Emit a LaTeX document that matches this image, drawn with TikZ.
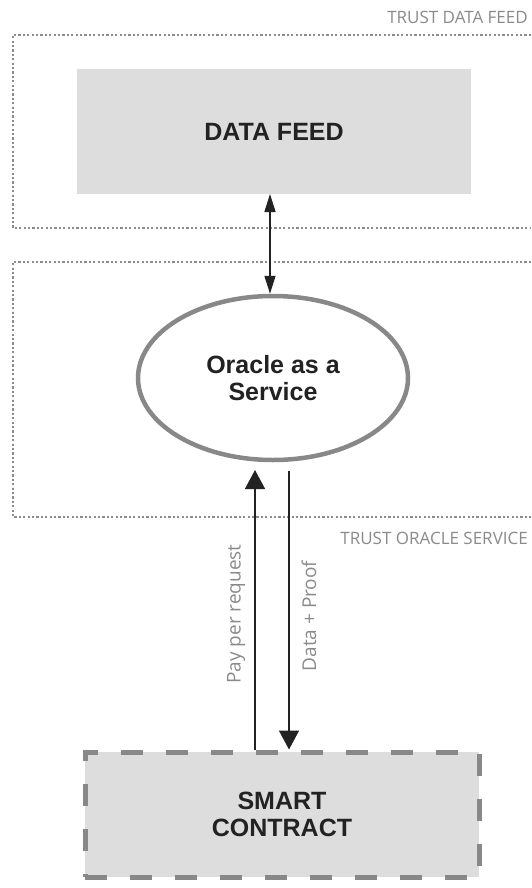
\documentclass[tikz,border=0pt]{standalone}
\usepackage{fontspec}
\setmainfont{Liberation Sans}
\newfontfamily\labelfont{Open Sans}
\usetikzlibrary{arrows.meta,shapes.geometric}
\definecolor{boxgray}{HTML}{DDDDDD}
\definecolor{edgegray}{HTML}{888888}
\definecolor{dotgray}{HTML}{8C8C8C}
\definecolor{txtgray}{HTML}{8A8A8A}
\definecolor{ink}{HTML}{222222}
\tikzset{
  trustzone/.style={draw=dotgray, line width=2.4pt, dash pattern=on 2.2pt off 2.2pt},
  zonelabel/.style={font=\labelfont\fontsize{17}{20}\selectfont, text=txtgray, inner sep=0pt, anchor=east},
  flowlabel/.style={font=\labelfont\fontsize{19}{22}\selectfont, text=txtgray, inner sep=0pt, rotate=90},
  titletext/.style={font=\bfseries\fontsize{25}{27}\selectfont, text=ink, align=center},
  feedbox/.style={fill=boxgray, draw=none, minimum width=394pt, minimum height=125pt, inner sep=0pt},
  contractbox/.style={fill=boxgray, draw=edgegray, line width=5pt, dash pattern=on 22pt off 23pt, minimum width=394pt, minimum height=125pt, inner sep=0pt},
  oraclenode/.style={ellipse, draw=edgegray, fill=white, line width=4.5pt, minimum width=270pt, minimum height=164pt, inner sep=0pt},
  flow/.style={draw=ink, line width=1.5pt},
  bigtip/.style={-{Triangle[length=19pt,width=20pt]}},
  duotip/.style={{Triangle[length=18pt,width=11pt]}-{Triangle[length=18pt,width=11pt]}},
}
\begin{document}
\begin{tikzpicture}[x=1pt,y=-1pt]
\useasboundingbox (0,0) rectangle (531,888);
% trust zones
\draw[trustzone] (531,35) -- (13,35) -- (13,228) -- (531,228);
\draw[trustzone] (531,262) -- (13,262) -- (13,517) -- (531,517);
\node[zonelabel] (lblfeed) at (528,17) {TRUST DATA FEED};
\node[zonelabel] (lbloracle) at (528,538) {TRUST ORACLE SERVICE};
% nodes
\node[feedbox, titletext] (feed) at (274,131.5) {DATA FEED};
\node[oraclenode, titletext] (oracle) at (273,378) {Oracle as a\\Service};
\node[contractbox, titletext] (contract) at (282,814.5) {SMART\\CONTRACT};
% connectors
\draw[flow, duotip] (270,194) -- (oracle.north -| 270,0);
\coordinate (upend) at (255,470);
\coordinate (downstart) at (289,471);
\draw[flow, bigtip] (contract.north -| upend) -- (upend);
\draw[flow, bigtip] (downstart) -- (contract.north -| downstart);
\node[flowlabel] (pay) at (236,614) {Pay per request};
\node[flowlabel] (proof) at (309,616) {Data + Proof};
\end{tikzpicture}
\end{document}
